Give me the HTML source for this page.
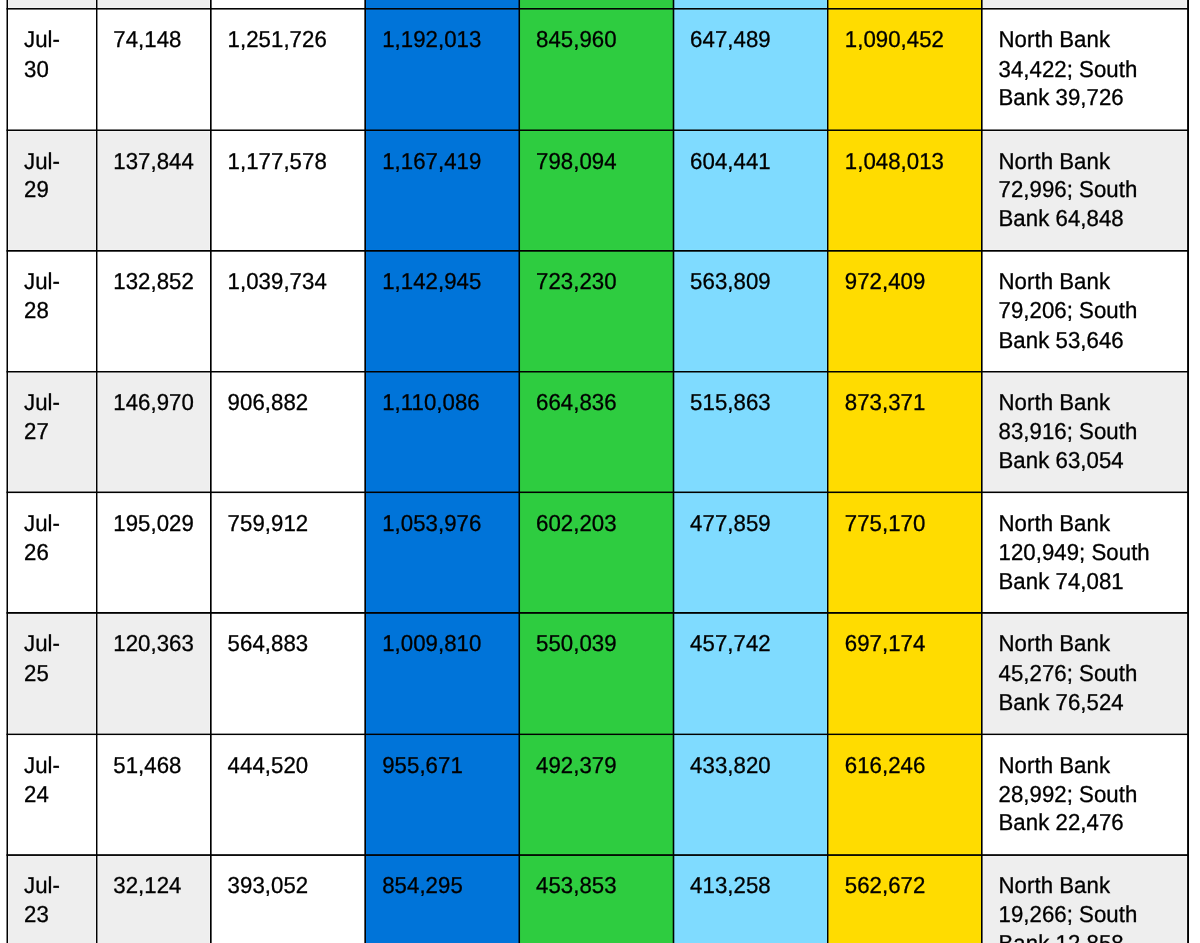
<!DOCTYPE html>
<html lang="en">
<head>
<meta charset="utf-8">
<title>Daily totals</title>
<style>
html,body{margin:0;padding:0;background:#fff;width:1200px;height:943px;overflow:hidden;}
body{position:relative;}
#wrap{position:absolute;left:0;top:0;width:24000px;height:18222px;transform:scale(0.05,0.05175);transform-origin:0 0;overflow:hidden;background:#fff;}
table{position:absolute;left:145px;top:-2166px;width:23616px;border-collapse:separate;border-spacing:0;table-layout:fixed;
font-family:"Liberation Sans",Arial,Helvetica,sans-serif;font-size:446px;line-height:564px;color:#000;
-webkit-text-stroke:6px #000;text-rendering:geometricPrecision;}
td{box-sizing:border-box;border:0;padding:0;vertical-align:top;text-align:left;white-space:nowrap;background:#fff;overflow:hidden;}
tr:nth-child(odd) td{background:#eee;}
tr td.c3{background:#fff;}
tr td.c4{background:#0074d9;}
tr td.c5{background:#2ecc40;}
tr td.c6{background:#7fdbff;}
tr td.c7{background:#ffdc00;}
.g{position:absolute;background:#000;}
.o{position:absolute;background:rgb(5,5,5);mix-blend-mode:color-dodge;}
td.c1{padding-left:335px;}
td.c2{padding-left:332px;}
td.c3{padding-left:336px;}
td.c4{padding-left:340px;}
td.c5{padding-left:335px;}
td.c6{padding-left:332px;}
td.c7{padding-left:342px;}
td.c8{padding-left:334px;}
td span{display:block;}
tr:nth-child(1) td{padding-top:300px;} tr:nth-child(1) .a{height:580px;} tr:nth-child(1) .b{height:541px;}
tr:nth-child(2) td{padding-top:303px;} tr:nth-child(2) .a{height:579px;} tr:nth-child(2) .b{height:541px;}
tr:nth-child(3) td{padding-top:313px;} tr:nth-child(3) .a{height:541px;} tr:nth-child(3) .b{height:561px;}
tr:nth-child(4) td{padding-top:301px;} tr:nth-child(4) .a{height:560px;} tr:nth-child(4) .b{height:580px;}
tr:nth-child(5) td{padding-top:303px;} tr:nth-child(5) .a{height:560px;} tr:nth-child(5) .b{height:561px;}
tr:nth-child(6) td{padding-top:312px;} tr:nth-child(6) .a{height:561px;} tr:nth-child(6) .b{height:560px;}
tr:nth-child(7) td{padding-top:301px;} tr:nth-child(7) .a{height:580px;} tr:nth-child(7) .b{height:560px;}
tr:nth-child(8) td{padding-top:312px;} tr:nth-child(8) .a{height:560px;} tr:nth-child(8) .b{height:541px;}
tr:nth-child(9) td{padding-top:297px;} tr:nth-child(9) .a{height:561px;} tr:nth-child(9) .b{height:560px;}
</style>
</head>
<body>
<div id="wrap">
<table>
<colgroup>
<col style="width:1789px">
<col style="width:2282px">
<col style="width:3088px">
<col style="width:3081px">
<col style="width:3085px">
<col style="width:3084px">
<col style="width:3082px">
<col style="width:4125px">
</colgroup>
<tbody>
<tr style="height:2336px">
<td class="c1"></td>
<td class="c2"></td>
<td class="c3"></td>
<td class="c4"></td>
<td class="c5"></td>
<td class="c6"></td>
<td class="c7"></td>
<td class="c8"></td>
</tr>
<tr style="height:2347px">
<td class="c1"><span class="a">Jul-</span><span class="b">30</span></td>
<td class="c2">74,148</td>
<td class="c3">1,251,726</td>
<td class="c4">1,192,013</td>
<td class="c5">845,960</td>
<td class="c6">647,489</td>
<td class="c7">1,090,452</td>
<td class="c8"><span class="a">North Bank</span><span class="b">34,422; South</span><span>Bank 39,726</span></td>
</tr>
<tr style="height:2331px">
<td class="c1"><span class="a">Jul-</span><span class="b">29</span></td>
<td class="c2">137,844</td>
<td class="c3">1,177,578</td>
<td class="c4">1,167,419</td>
<td class="c5">798,094</td>
<td class="c6">604,441</td>
<td class="c7">1,048,013</td>
<td class="c8"><span class="a">North Bank</span><span class="b">72,996; South</span><span>Bank 64,848</span></td>
</tr>
<tr style="height:2336px">
<td class="c1"><span class="a">Jul-</span><span class="b">28</span></td>
<td class="c2">132,852</td>
<td class="c3">1,039,734</td>
<td class="c4">1,142,945</td>
<td class="c5">723,230</td>
<td class="c6">563,809</td>
<td class="c7">972,409</td>
<td class="c8"><span class="a">North Bank</span><span class="b">79,206; South</span><span>Bank 53,646</span></td>
</tr>
<tr style="height:2329px">
<td class="c1"><span class="a">Jul-</span><span class="b">27</span></td>
<td class="c2">146,970</td>
<td class="c3">906,882</td>
<td class="c4">1,110,086</td>
<td class="c5">664,836</td>
<td class="c6">515,863</td>
<td class="c7">873,371</td>
<td class="c8"><span class="a">North Bank</span><span class="b">83,916; South</span><span>Bank 63,054</span></td>
</tr>
<tr style="height:2330px">
<td class="c1"><span class="a">Jul-</span><span class="b">26</span></td>
<td class="c2">195,029</td>
<td class="c3">759,912</td>
<td class="c4">1,053,976</td>
<td class="c5">602,203</td>
<td class="c6">477,859</td>
<td class="c7">775,170</td>
<td class="c8"><span class="a">North Bank</span><span class="b">120,949; South</span><span>Bank 74,081</span></td>
</tr>
<tr style="height:2347px">
<td class="c1"><span class="a">Jul-</span><span class="b">25</span></td>
<td class="c2">120,363</td>
<td class="c3">564,883</td>
<td class="c4">1,009,810</td>
<td class="c5">550,039</td>
<td class="c6">457,742</td>
<td class="c7">697,174</td>
<td class="c8"><span class="a">North Bank</span><span class="b">45,276; South</span><span>Bank 76,524</span></td>
</tr>
<tr style="height:2333px">
<td class="c1"><span class="a">Jul-</span><span class="b">24</span></td>
<td class="c2">51,468</td>
<td class="c3">444,520</td>
<td class="c4">955,671</td>
<td class="c5">492,379</td>
<td class="c6">433,820</td>
<td class="c7">616,246</td>
<td class="c8"><span class="a">North Bank</span><span class="b">28,992; South</span><span>Bank 22,476</span></td>
</tr>
<tr style="height:2336px">
<td class="c1"><span class="a">Jul-</span><span class="b">23</span></td>
<td class="c2">32,124</td>
<td class="c3">393,052</td>
<td class="c4">854,295</td>
<td class="c5">453,853</td>
<td class="c6">413,258</td>
<td class="c7">562,672</td>
<td class="c8"><span class="a">North Bank</span><span class="b">19,266; South</span><span>Bank 12,858</span></td>
</tr>
</tbody></table>
<div class="o" style="left:110px;top:-2182px;width:70px;height:21058px"></div>
<div class="o" style="left:1900px;top:-2182px;width:69px;height:21058px"></div>
<div class="o" style="left:4180px;top:-2182px;width:73px;height:21058px"></div>
<div class="o" style="left:7267px;top:-2182px;width:73px;height:21058px"></div>
<div class="o" style="left:10350px;top:-2182px;width:71px;height:21058px"></div>
<div class="o" style="left:13434px;top:-2182px;width:72px;height:21058px"></div>
<div class="o" style="left:16520px;top:-2182px;width:69px;height:21058px"></div>
<div class="o" style="left:19600px;top:-2182px;width:72px;height:21058px"></div>
<div class="o" style="left:23722px;top:-2182px;width:78px;height:21058px"></div>
<div class="o" style="left:130px;top:-2201px;width:23650px;height:69px"></div>
<div class="o" style="left:130px;top:135px;width:23650px;height:69px"></div>
<div class="o" style="left:130px;top:2483px;width:23650px;height:68px"></div>
<div class="o" style="left:130px;top:4812px;width:23650px;height:71px"></div>
<div class="o" style="left:130px;top:7150px;width:23650px;height:67px"></div>
<div class="o" style="left:130px;top:9478px;width:23650px;height:69px"></div>
<div class="o" style="left:130px;top:11807px;width:23650px;height:73px"></div>
<div class="o" style="left:130px;top:14157px;width:23650px;height:66px"></div>
<div class="o" style="left:130px;top:16487px;width:23650px;height:72px"></div>
<div class="o" style="left:130px;top:18823px;width:23650px;height:73px"></div>
<div class="g" style="left:130px;top:-2182px;width:30px;height:21058px"></div>
<div class="g" style="left:1920px;top:-2182px;width:29px;height:21058px"></div>
<div class="g" style="left:4200px;top:-2182px;width:33px;height:21058px"></div>
<div class="g" style="left:7287px;top:-2182px;width:33px;height:21058px"></div>
<div class="g" style="left:10370px;top:-2182px;width:31px;height:21058px"></div>
<div class="g" style="left:13454px;top:-2182px;width:32px;height:21058px"></div>
<div class="g" style="left:16540px;top:-2182px;width:29px;height:21058px"></div>
<div class="g" style="left:19620px;top:-2182px;width:32px;height:21058px"></div>
<div class="g" style="left:23742px;top:-2182px;width:38px;height:21058px"></div>
<div class="g" style="left:130px;top:-2182px;width:23650px;height:31px"></div>
<div class="g" style="left:130px;top:155px;width:23650px;height:30px"></div>
<div class="g" style="left:130px;top:2502px;width:23650px;height:29px"></div>
<div class="g" style="left:130px;top:4831px;width:23650px;height:33px"></div>
<div class="g" style="left:130px;top:7169px;width:23650px;height:29px"></div>
<div class="g" style="left:130px;top:9498px;width:23650px;height:30px"></div>
<div class="g" style="left:130px;top:11826px;width:23650px;height:35px"></div>
<div class="g" style="left:130px;top:14176px;width:23650px;height:28px"></div>
<div class="g" style="left:130px;top:16506px;width:23650px;height:34px"></div>
<div class="g" style="left:130px;top:18843px;width:23650px;height:33px"></div>
</div></body></html>
